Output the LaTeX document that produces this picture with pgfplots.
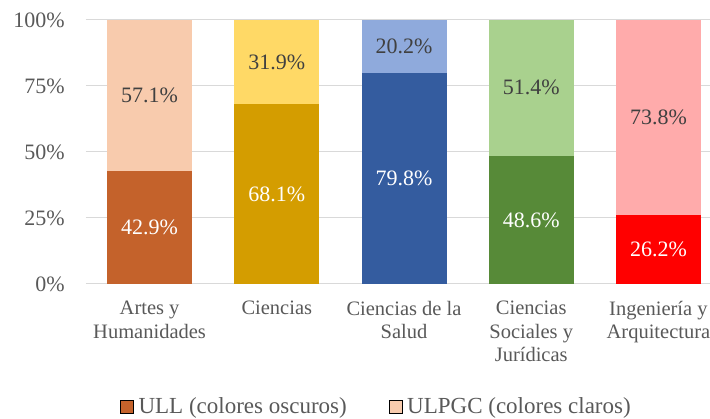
\documentclass[border=0pt]{standalone}
\usepackage{fontspec}
\setmainfont{Liberation Serif}
\usepackage{pgfplots}
\pgfplotsset{compat=1.18}
\definecolor{aD}{HTML}{C4622B}
\definecolor{aL}{HTML}{F8CBAD}
\definecolor{cD}{HTML}{D49D00}
\definecolor{cL}{HTML}{FFD966}
\definecolor{sD}{HTML}{345C9F}
\definecolor{sL}{HTML}{8FAADC}
\definecolor{jD}{HTML}{578A38}
\definecolor{jL}{HTML}{A9D18E}
\definecolor{iD}{HTML}{FF0000}
\definecolor{iL}{HTML}{FFABAB}
\definecolor{tickgray}{HTML}{595959}
\definecolor{lblgray}{HTML}{404040}
\definecolor{gridgray}{HTML}{D9D9D9}
\begin{document}
\fontsize{21}{24}\selectfont
\begin{tikzpicture}
\useasboundingbox (0,0) rectangle (710pt,419pt);
\begin{axis}[
  at={(86pt,135pt)}, anchor=south west,
  width=624pt, height=264pt, scale only axis,
  ybar stacked, bar width=85pt,
  xmin=-0.5, xmax=4.4055, ymin=0, ymax=100,
  clip=false,
  xtick={0,1,2,3,4},
  xticklabels={{Artes y\\Humanidades},{Ciencias},{Ciencias de la\\Salud},{Ciencias\\Sociales y\\Jurídicas},{Ingeniería y\\Arquitectura}},
  xticklabel style={align=center, text=tickgray, anchor=north, yshift=-10pt, font=\fontsize{20.5}{23.3}\selectfont},
  ytick={0,25,50,75,100},
  yticklabels={0\%,25\%,50\%,75\%,100\%},
  yticklabel style={text=tickgray, anchor=east, xshift=-14pt, font=\fontsize{22}{24}\selectfont},
  ymajorgrids, grid style={draw=gridgray, line width=1pt},
  axis line style={draw=none}, major tick style={draw=none},
  legend style={at={(0.4655,-0.466)}, anchor=center, draw=none, fill=none,
    legend columns=2, font=\fontsize{23}{25}\selectfont, text=tickgray,
    /tikz/every odd column/.append style={column sep=3pt},
    /tikz/every even column/.append style={column sep=40pt}},
  legend cell align=left,
  legend image code/.code={\fill[#1] (0pt,-6.5pt) rectangle (13pt,6.5pt);},
  nodes near coords, point meta=explicit symbolic,
  every node near coord/.style={anchor=center, font=\fontsize{22}{24}\selectfont},
]
% dark (ULL) segments
\addplot[fill=aD, draw=none, forget plot, every node near coord/.append style={text=white}]
  coordinates {(0,42.9)[42.9\%] (1,0)[] (2,0)[] (3,0)[] (4,0)[]};
\addplot[fill=cD, draw=none, forget plot, every node near coord/.append style={text=white}]
  coordinates {(0,0)[] (1,68.1)[68.1\%] (2,0)[] (3,0)[] (4,0)[]};
\addplot[fill=sD, draw=none, forget plot, every node near coord/.append style={text=white}]
  coordinates {(0,0)[] (1,0)[] (2,79.8)[79.8\%] (3,0)[] (4,0)[]};
\addplot[fill=jD, draw=none, forget plot, every node near coord/.append style={text=white}]
  coordinates {(0,0)[] (1,0)[] (2,0)[] (3,48.6)[48.6\%] (4,0)[]};
\addplot[fill=iD, draw=none, forget plot, every node near coord/.append style={text=white}]
  coordinates {(0,0)[] (1,0)[] (2,0)[] (3,0)[] (4,26.2)[26.2\%]};
% light (ULPGC) segments
\addplot[fill=aL, draw=none, forget plot, every node near coord/.append style={text=lblgray}]
  coordinates {(0,57.1)[57.1\%] (1,0)[] (2,0)[] (3,0)[] (4,0)[]};
\addplot[fill=cL, draw=none, forget plot, every node near coord/.append style={text=lblgray}]
  coordinates {(0,0)[] (1,31.9)[31.9\%] (2,0)[] (3,0)[] (4,0)[]};
\addplot[fill=sL, draw=none, forget plot, every node near coord/.append style={text=lblgray}]
  coordinates {(0,0)[] (1,0)[] (2,20.2)[20.2\%] (3,0)[] (4,0)[]};
\addplot[fill=jL, draw=none, forget plot, every node near coord/.append style={text=lblgray}]
  coordinates {(0,0)[] (1,0)[] (2,0)[] (3,51.4)[51.4\%] (4,0)[]};
\addplot[fill=iL, draw=none, forget plot, every node near coord/.append style={text=lblgray}]
  coordinates {(0,0)[] (1,0)[] (2,0)[] (3,0)[] (4,73.8)[73.8\%]};
\addlegendimage{fill=aD}
\addlegendentry{ULL (colores oscuros)}
\addlegendimage{fill=aL}
\addlegendentry{ULPGC (colores claros)}
\end{axis}
\end{tikzpicture}
\end{document}
